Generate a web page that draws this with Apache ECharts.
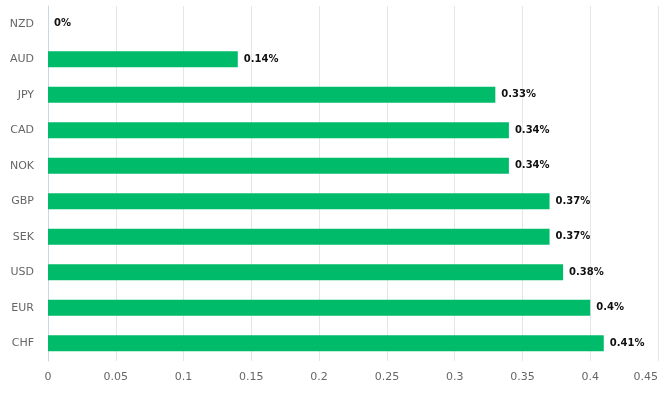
<!DOCTYPE html>
<html><head><meta charset="utf-8">
<script src="https://cdn.jsdelivr.net/npm/echarts@6/dist/echarts.min.js"></script>
<style>html,body{margin:0;padding:0;background:#fff}#c{width:671px;height:393px}</style>
</head><body><div id="c"></div>
<script>
const categories = ["NZD","AUD","JPY","CAD","NOK","GBP","SEK","USD","EUR","CHF"];
const values = [0,0.14,0.33,0.34,0.34,0.37,0.37,0.38,0.4,0.41];
const xMin = 0, xMax = 0.45, xStep = 0.05;

const chart = echarts.init(document.getElementById('c'), null, {renderer:'canvas'});
chart.setOption({
  animation:false,
  grid:{left:48,right:13,top:6,bottom:32,containLabel:false},
  xAxis:{type:'value',min:xMin,max:xMax,interval:xStep,
    axisLine:{show:false},axisTick:{show:false},
    splitLine:{lineStyle:{color:'#e6e6e6'}},
    axisLabel:{color:'#666',fontFamily:'DejaVu Sans',fontSize:11,margin:11,alignMaxLabel:'right',
      formatter:v=>String(+v.toFixed(2))}},
  yAxis:{type:'category',data:categories,inverse:true,
    axisLine:{lineStyle:{color:'#ccd6eb'}},
    axisTick:{length:8,lineStyle:{color:'#ccd6eb'}},
    splitLine:{show:false},
    axisLabel:{color:'#666',fontFamily:'DejaVu Sans',fontSize:11,margin:14}},
  series:[{type:'bar',data:values,barWidth:16,
    itemStyle:{color:'#00bb6a'},
    label:{show:true,position:'right',distance:6,color:'#111',fontWeight:'bold',
      fontFamily:'DejaVu Sans',fontSize:10,formatter:p=>p.value+'%'}}]
});
</script></body></html>
